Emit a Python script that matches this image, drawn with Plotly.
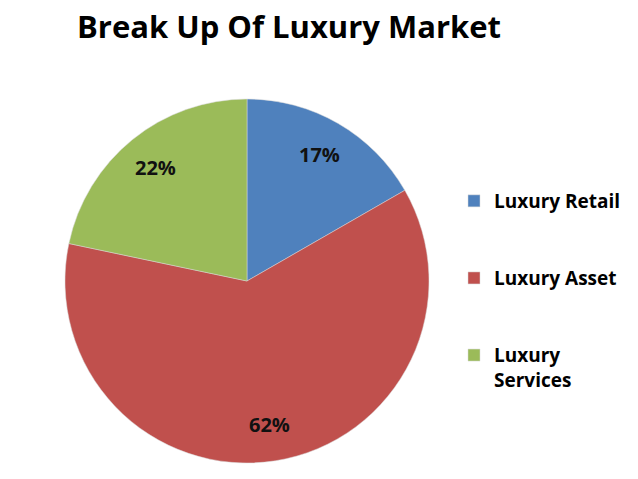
import math
import plotly.graph_objects as go

categories = ["Luxury Retail", "Luxury Asset", "Luxury<br>Services"]
values = [16.7, 61.6, 21.7]
colors = ["#4F81BD", "#C0504D", "#9BBB59"]
title_text = "Break Up Of Luxury Market"

W, H = 638, 479
dom_x = [65 / W, 429 / W]
dom_y = [16 / H, 380 / H]

# pad legend entries with blank lines to mimic the wide legend spacing
legend_labels = [categories[0] + "<br> <br> ", categories[1] + "<br> <br> ", categories[2]]

fig = go.Figure(go.Pie(
    labels=legend_labels,
    values=values,
    sort=False,
    direction="clockwise",
    rotation=0,
    marker=dict(colors=colors, line=dict(color="#d9d9d9", width=0.5)),
    textinfo="none",
    domain=dict(x=dom_x, y=dom_y),
    hoverinfo="skip",
))

# percentage labels placed at ~80% of the radius along each slice bisector
cx = (dom_x[0] + dom_x[1]) / 2 * W
cy = (dom_y[0] + dom_y[1]) / 2 * H
R = min((dom_x[1] - dom_x[0]) * W, (dom_y[1] - dom_y[0]) * H) / 2
total = sum(values)
cum = 0.0
for v in values:
    mid = (cum + v / 2) / total * 2 * math.pi
    cum += v
    px = cx + 0.8 * R * math.sin(mid)
    py = cy + 0.8 * R * math.cos(mid)
    fig.add_annotation(x=px / W, y=py / H, xref="paper", yref="paper",
                       xanchor="center", yanchor="middle",
                       text=f"{round(v / total * 100)}%", showarrow=False,
                       font=dict(family="Open Sans", size=20, color="#111111", weight="bold"))

fig.update_layout(
    width=W, height=H,
    margin=dict(l=0, r=0, t=0, b=0),
    paper_bgcolor="white",
    plot_bgcolor="white",
    title=dict(text=title_text, x=289 / W, xanchor="center", y=1 - 27 / H, yanchor="middle",
               font=dict(family="Open Sans", size=31, color="black", weight="bold")),
    legend=dict(x=454 / W, xanchor="left", y=1 - 182 / H, yanchor="top", valign="top",
                font=dict(family="Open Sans", size=19, color="black", weight="bold"),
                bgcolor="rgba(0,0,0,0)"),
    showlegend=True,
)

fig.write_html("out.html", post_script="document.body.style.margin='0';",
               config={"displayModeBar": False})
